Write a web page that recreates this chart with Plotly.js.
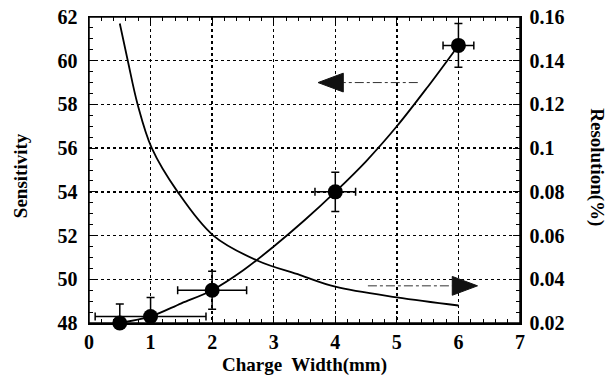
<!DOCTYPE html>
<html>
<head>
<meta charset="utf-8">
<script src="https://cdn.plot.ly/plotly-3.0.1.min.js"></script>
<style>html,body{margin:0;padding:0;background:#fff;}#chart{width:608px;height:376px;}</style>
</head>
<body>
<div id="chart"></div>
<script>
// Measured points (Sensitivity vs Charge Width)
const widthPts = [0.5, 1, 2, 4, 6];
const sensPts = [48.0, 48.3, 49.5, 54.0, 60.7];
const errXPts = [0, 0.9, 0.56, 0.33, 0.25];
const errYPlus = [0.87, 0.87, 0.87, 0.9, 1.0];
const errYMinus = [0, 0.3, 0.87, 0.9, 1.0];

// Fitted sensitivity curve
const fitX = [0.5, 1, 1.5, 2, 2.5, 3, 3.5, 4, 4.5, 5, 5.5, 6];
const fitSens = [48.0, 48.3, 48.9, 49.5, 50.4, 51.5, 52.7, 54.0, 55.4, 57.0, 58.8, 60.7];

// Resolution curve (right axis)
const resX = [0.5, 0.63, 0.79, 1.02, 1.44, 2.02, 2.73, 3.43, 4.0, 5.0, 6.0];
const resY = [0.157, 0.14, 0.12, 0.10, 0.08, 0.06, 0.0486, 0.0419, 0.0366, 0.0317, 0.028];

// Indicator arrows (left-axis units)
const arrowTailX = [5.34, 4.53];
const arrowTipX = [3.72, 6.31];
const arrowY = [59.0, 49.7];

const xTicks = [0, 1, 2, 3, 4, 5, 6, 7];
const xTickText = ['0', '1', '2', '3', '4', '5', '6', '7'];
const yTicks = [48, 50, 52, 54, 56, 58, 60, 62];
const yTickText = ['48', '50', '52', '54', '56', '58', '60', '62'];
const y2Ticks = [0.02, 0.04, 0.06, 0.08, 0.1, 0.12, 0.14, 0.16];
const y2TickText = ['0.02', '0.04', '0.06', '0.08', '0.1', '0.12', '0.14', '0.16'];

const FONT = 'Liberation Serif';
const headLen = 0.41, headHalf = 0.43;
const bold = a => a.map(s => '<b>' + s + '</b>');

const traces = [];
traces.push({x: fitX, y: fitSens, mode: 'lines', line: {color: '#000', width: 1.8, shape: 'spline'}, hoverinfo: 'skip', showlegend: false});
traces.push({x: resX, y: resY, yaxis: 'y2', mode: 'lines', line: {color: '#000', width: 1.8, shape: 'spline', smoothing: 1}, hoverinfo: 'skip', showlegend: false});

for (let i = 0; i < arrowTailX.length; i++) {
  const dir = arrowTipX[i] < arrowTailX[i] ? -1 : 1;
  const baseX = arrowTipX[i] - dir * headLen;
  traces.push({x: [arrowTailX[i], baseX], y: [arrowY[i], arrowY[i]], mode: 'lines',
    line: {color: '#333', width: 1, dash: 'dashdot'}, hoverinfo: 'skip', showlegend: false});
  traces.push({x: [arrowTipX[i], baseX, baseX, arrowTipX[i]], y: [arrowY[i], arrowY[i] + headHalf, arrowY[i] - headHalf, arrowY[i]],
    mode: 'lines', fill: 'toself', fillcolor: '#111', line: {color: '#111', width: 1}, hoverinfo: 'skip', showlegend: false});
}

traces.push({x: widthPts, y: sensPts, mode: 'markers', cliponaxis: false,
  marker: {color: '#000', size: 15, symbol: 'circle'},
  error_x: {type: 'data', array: errXPts, visible: true, color: '#000', thickness: 1.5, width: 4},
  error_y: {type: 'data', symmetric: false, array: errYPlus, arrayminus: errYMinus, visible: true, color: '#000', thickness: 1.5, width: 4},
  hoverinfo: 'skip', showlegend: false});

const tickFont = {family: FONT, size: 20, color: '#000'};
const commonAxis = {showline: true, linecolor: '#000', linewidth: 1.5, ticks: 'inside', ticklen: 7, tickcolor: '#000', tickwidth: 1.2,
  showgrid: true, gridcolor: '#000', gridwidth: 1.3, griddash: 'dot', zeroline: false, tickfont: tickFont, fixedrange: true};

const titleFont = {family: FONT, size: 19, color: '#000'};

const layout = {
  width: 608, height: 376,
  margin: {l: 89, r: 88, t: 17, b: 53},
  paper_bgcolor: '#fff', plot_bgcolor: '#fff',
  showlegend: false,
  xaxis: Object.assign({}, commonAxis, {range: [0, 7], tickmode: 'array', tickvals: xTicks, ticktext: bold(xTickText), mirror: 'ticks', ticklabelstandoff: 0,
    minor: {dtick: 0.2, ticks: 'inside', ticklen: 4, tickcolor: '#000', tickwidth: 1, showgrid: false}}),
  yaxis: Object.assign({}, commonAxis, {range: [48, 62], tickmode: 'array', tickvals: yTicks, ticktext: bold(yTickText), ticklabelstandoff: 6,
    minor: {dtick: 0.5, ticks: 'inside', ticklen: 4, tickcolor: '#000', tickwidth: 1, showgrid: false}}),
  yaxis2: Object.assign({}, commonAxis, {overlaying: 'y', side: 'right', range: [0.02, 0.16], tickmode: 'array', tickvals: y2Ticks, ticktext: bold(y2TickText),
    showgrid: false, ticklabelstandoff: 4,
    minor: {dtick: 0.005, ticks: 'inside', ticklen: 4, tickcolor: '#000', tickwidth: 1, showgrid: false}}),
  shapes: [
    {type: 'rect', xref: 'paper', yref: 'paper', x0: 0, x1: 1, y0: 0, y1: 1, line: {color: '#000', width: 1.5}, layer: 'above'}
  ],
  annotations: [
    {text: '<b>Sensitivity</b>', xref: 'paper', yref: 'paper', x: -0.16, y: 0.48, xanchor: 'center', yanchor: 'middle', textangle: -90, showarrow: false,
      font: titleFont},
    {text: '<b>Resolution(%)</b>', xref: 'paper', yref: 'paper', x: 1.178, y: 0.51, xanchor: 'center', yanchor: 'middle', textangle: 90, showarrow: false,
      font: titleFont},
    {text: '<b>Charge  Width(mm)</b>', xref: 'paper', yref: 'paper', x: 0.5, y: -0.137, xanchor: 'center', yanchor: 'middle', showarrow: false,
      font: titleFont}
  ]
};

Plotly.newPlot('chart', traces, layout, {staticPlot: true, displayModeBar: false});
</script>
</body>
</html>
